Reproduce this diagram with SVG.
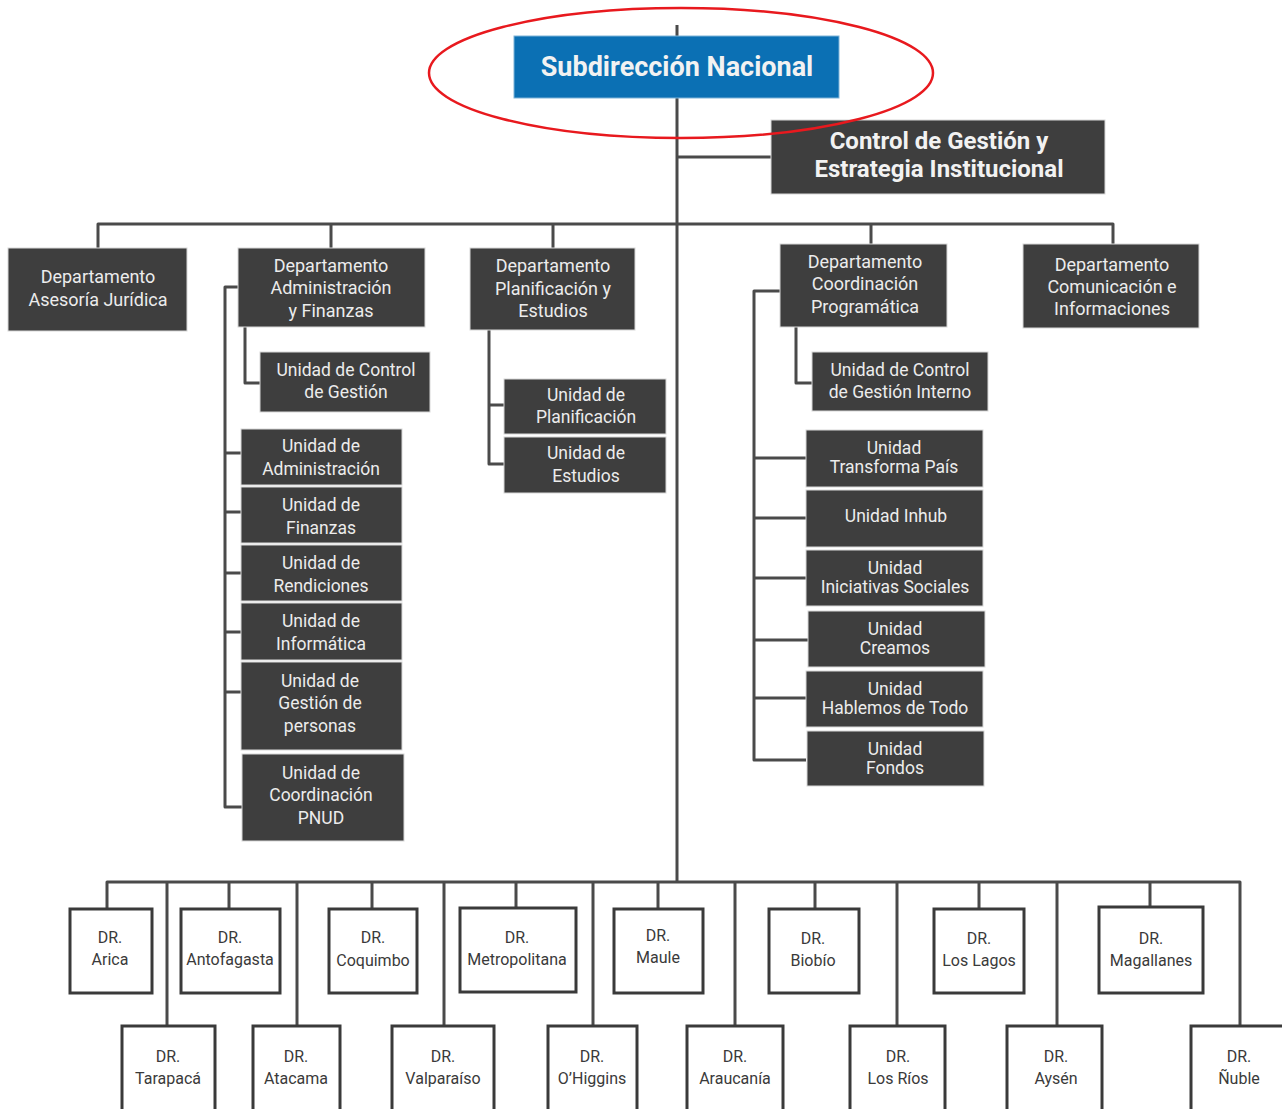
<svg xmlns="http://www.w3.org/2000/svg" width="1282" height="1109" viewBox="0 0 1282 1109">
<style>
.ln{fill:none;stroke:#4a4a4a;stroke-width:3;stroke-linejoin:round}
.dk{fill:#3e3e3e;stroke:#d8d8d8;stroke-width:1}
.dr{fill:#ffffff;stroke:#3a3a3a;stroke-width:3}
.t{font-family:Roboto,"Liberation Sans",sans-serif;font-size:18px;fill:#ececec;text-anchor:middle}
.u{font-family:Roboto,"Liberation Sans",sans-serif;font-size:17.5px;fill:#ececec;text-anchor:middle}
.d{font-family:Roboto,"Liberation Sans",sans-serif;font-size:16px;fill:#3a3a3a;text-anchor:middle}
.b{font-family:Roboto,"Liberation Sans",sans-serif;font-weight:bold;fill:#f2f2f2;text-anchor:middle}
</style>
<rect width="1282" height="1109" fill="#ffffff"/>
<g id="connectors">
<path class="ln" d="M677 25 V882"/>
<path class="ln" d="M677 157 H771"/>
<path class="ln" d="M98 248 V224 H1113 V244"/>
<path class="ln" d="M331 224 V248 M553 224 V248 M871 224 V244"/>
<path class="ln" d="M238 287 H225 V807 H242"/>
<path class="ln" d="M225 453 H241 M225 512 H241 M225 573 H241 M225 632 H241 M225 692 H241"/>
<path class="ln" d="M245 327 V383 H260"/>
<path class="ln" d="M489 330 V464 H504 M489 405 H504"/>
<path class="ln" d="M780 291 H754 V760 H806"/>
<path class="ln" d="M754 458 H806 M754 518 H806 M754 578 H806 M754 640 H808 M754 698 H806"/>
<path class="ln" d="M796 327 V383 H812"/>
<path class="ln" d="M107 908 V882 H1240 V1025"/>
<path class="ln" d="M229 882 V908 M372 882 V908 M516 882 V908 M658 882 V908 M815 882 V908 M979 882 V908 M1150 882 V908"/>
<path class="ln" d="M167 882 V1025 M297 882 V1025 M444 882 V1025 M593 882 V1025 M735 882 V1025 M897 882 V1025 M1057 882 V1025"/>
</g>
<g id="n-subdireccion">
<rect x="514" y="36" width="325" height="62" fill="#0b70b4" stroke="#7fb3d8" stroke-width="1"/>
<text class="b" x="677" y="76" font-size="27" fill="#eaf6ff">Subdirección Nacional</text>
</g>
<g id="n-control">
<rect class="dk" x="771" y="120" width="334" height="74"/>
<text class="b" x="939" y="149" font-size="24">Control de Gestión y</text>
<text class="b" x="939" y="177" font-size="24">Estrategia Institucional</text>
</g>
<g id="n-juridica">
<rect class="dk" x="8" y="248" width="179" height="83"/>
<text class="t" x="98" y="283">Departamento</text>
<text class="t" x="98" y="306">Asesoría Jurídica</text>
</g>
<g id="n-admin">
<rect class="dk" x="238" y="248" width="187" height="79"/>
<text class="t" x="331" y="272">Departamento</text>
<text class="t" x="331" y="294">Administración</text>
<text class="t" x="331" y="317">y Finanzas</text>
</g>
<g id="n-planif">
<rect class="dk" x="470" y="248" width="165" height="82"/>
<text class="t" x="553" y="272">Departamento</text>
<text class="t" x="553" y="295">Planificación y</text>
<text class="t" x="553" y="317">Estudios</text>
</g>
<g id="n-coord">
<rect class="dk" x="780" y="244" width="167" height="83"/>
<text class="t" x="865" y="268">Departamento</text>
<text class="t" x="865" y="290">Coordinación</text>
<text class="t" x="865" y="313">Programática</text>
</g>
<g id="n-comunic">
<rect class="dk" x="1023" y="244" width="176" height="84"/>
<text class="t" x="1112" y="271">Departamento</text>
<text class="t" x="1112" y="293">Comunicación e</text>
<text class="t" x="1112" y="315">Informaciones</text>
</g>
<g id="n-ucg">
<rect class="dk" x="260" y="352" width="170" height="60"/>
<text class="u" x="346" y="376">Unidad de Control</text>
<text class="u" x="346" y="398">de Gestión</text>
</g>
<g id="n-uadm">
<rect class="dk" x="241" y="429" width="161" height="56"/>
<text class="u" x="321" y="452">Unidad de</text>
<text class="u" x="321" y="475">Administración</text>
</g>
<g id="n-ufin">
<rect class="dk" x="241" y="487" width="161" height="56"/>
<text class="u" x="321" y="511">Unidad de</text>
<text class="u" x="321" y="534">Finanzas</text>
</g>
<g id="n-uren">
<rect class="dk" x="241" y="545" width="161" height="56"/>
<text class="u" x="321" y="569">Unidad de</text>
<text class="u" x="321" y="592">Rendiciones</text>
</g>
<g id="n-uinf">
<rect class="dk" x="241" y="603" width="161" height="57"/>
<text class="u" x="321" y="627">Unidad de</text>
<text class="u" x="321" y="650">Informática</text>
</g>
<g id="n-ugp">
<rect class="dk" x="241" y="662" width="161" height="88"/>
<text class="u" x="320" y="687">Unidad de</text>
<text class="u" x="320" y="709">Gestión  de</text>
<text class="u" x="320" y="732">personas</text>
</g>
<g id="n-upnud">
<rect class="dk" x="242" y="754" width="162" height="87"/>
<text class="u" x="321" y="779">Unidad de</text>
<text class="u" x="321" y="801">Coordinación</text>
<text class="u" x="321" y="824">PNUD</text>
</g>
<g id="n-uplan">
<rect class="dk" x="504" y="379" width="162" height="55"/>
<text class="u" x="586" y="401">Unidad de</text>
<text class="u" x="586" y="423">Planificación</text>
</g>
<g id="n-uest">
<rect class="dk" x="504" y="437" width="162" height="56"/>
<text class="u" x="586" y="459">Unidad de</text>
<text class="u" x="586" y="482">Estudios</text>
</g>
<g id="n-ucgi">
<rect class="dk" x="812" y="352" width="176" height="59"/>
<text class="u" x="900" y="376">Unidad de Control</text>
<text class="u" x="900" y="398">de Gestión Interno</text>
</g>
<g id="n-utp">
<rect class="dk" x="806" y="430" width="177" height="57"/>
<text class="u" x="894" y="454">Unidad</text>
<text class="u" x="894" y="473">Transforma País</text>
</g>
<g id="n-uinhub">
<rect class="dk" x="806" y="490" width="177" height="57"/>
<text class="u" x="896" y="522">Unidad Inhub</text>
</g>
<g id="n-uis">
<rect class="dk" x="806" y="550" width="177" height="56"/>
<text class="u" x="895" y="574">Unidad</text>
<text class="u" x="895" y="593">Iniciativas Sociales</text>
</g>
<g id="n-ucre">
<rect class="dk" x="808" y="611" width="177" height="56"/>
<text class="u" x="895" y="635">Unidad</text>
<text class="u" x="895" y="654">Creamos</text>
</g>
<g id="n-uhab">
<rect class="dk" x="806" y="671" width="177" height="56"/>
<text class="u" x="895" y="695">Unidad</text>
<text class="u" x="895" y="714">Hablemos de Todo</text>
</g>
<g id="n-ufon">
<rect class="dk" x="807" y="731" width="177" height="55"/>
<text class="u" x="895" y="755">Unidad</text>
<text class="u" x="895" y="774">Fondos</text>
</g>
<g id="n-arica"><rect class="dr" x="70" y="909" width="82" height="84"/><text class="d" x="110" y="943">DR.</text><text class="d" x="110" y="965">Arica</text></g>
<g id="n-antofagasta"><rect class="dr" x="181" y="909" width="99" height="84"/><text class="d" x="230" y="943">DR.</text><text class="d" x="230" y="965">Antofagasta</text></g>
<g id="n-coquimbo"><rect class="dr" x="329" y="909" width="88" height="84"/><text class="d" x="373" y="943">DR.</text><text class="d" x="373" y="966">Coquimbo</text></g>
<g id="n-metropolitana"><rect class="dr" x="460" y="908" width="116" height="84"/><text class="d" x="517" y="943">DR.</text><text class="d" x="517" y="965">Metropolitana</text></g>
<g id="n-maule"><rect class="dr" x="614" y="909" width="89" height="84"/><text class="d" x="658" y="941">DR.</text><text class="d" x="658" y="963">Maule</text></g>
<g id="n-biobio"><rect class="dr" x="769" y="909" width="90" height="84"/><text class="d" x="813" y="944">DR.</text><text class="d" x="813" y="966">Biobío</text></g>
<g id="n-loslagos"><rect class="dr" x="934" y="909" width="90" height="84"/><text class="d" x="979" y="944">DR.</text><text class="d" x="979" y="966">Los Lagos</text></g>
<g id="n-magallanes"><rect class="dr" x="1099" y="907" width="104" height="86"/><text class="d" x="1151" y="944">DR.</text><text class="d" x="1151" y="966">Magallanes</text></g>
<g id="n-tarapaca"><rect class="dr" x="122" y="1026" width="93" height="90"/><text class="d" x="168" y="1062">DR.</text><text class="d" x="168" y="1084">Tarapacá</text></g>
<g id="n-atacama"><rect class="dr" x="253" y="1026" width="87" height="90"/><text class="d" x="296" y="1062">DR.</text><text class="d" x="296" y="1084">Atacama</text></g>
<g id="n-valparaiso"><rect class="dr" x="392" y="1026" width="102" height="90"/><text class="d" x="443" y="1062">DR.</text><text class="d" x="443" y="1084">Valparaíso</text></g>
<g id="n-ohiggins"><rect class="dr" x="548" y="1026" width="89" height="90"/><text class="d" x="592" y="1062">DR.</text><text class="d" x="592" y="1084">O’Higgins</text></g>
<g id="n-araucania"><rect class="dr" x="687" y="1026" width="96" height="90"/><text class="d" x="735" y="1062">DR.</text><text class="d" x="735" y="1084">Araucanía</text></g>
<g id="n-losrios"><rect class="dr" x="850" y="1026" width="95" height="90"/><text class="d" x="898" y="1062">DR.</text><text class="d" x="898" y="1084">Los Ríos</text></g>
<g id="n-aysen"><rect class="dr" x="1007" y="1026" width="95" height="90"/><text class="d" x="1056" y="1062">DR.</text><text class="d" x="1056" y="1084">Aysén</text></g>
<g id="n-nuble"><rect class="dr" x="1191" y="1026" width="95" height="90"/><text class="d" x="1239" y="1062">DR.</text><text class="d" x="1239" y="1084">Ñuble</text></g>
<ellipse id="highlight" cx="681" cy="73" rx="252" ry="65" fill="none" stroke="#e8191e" stroke-width="2.5"/>
</svg>
